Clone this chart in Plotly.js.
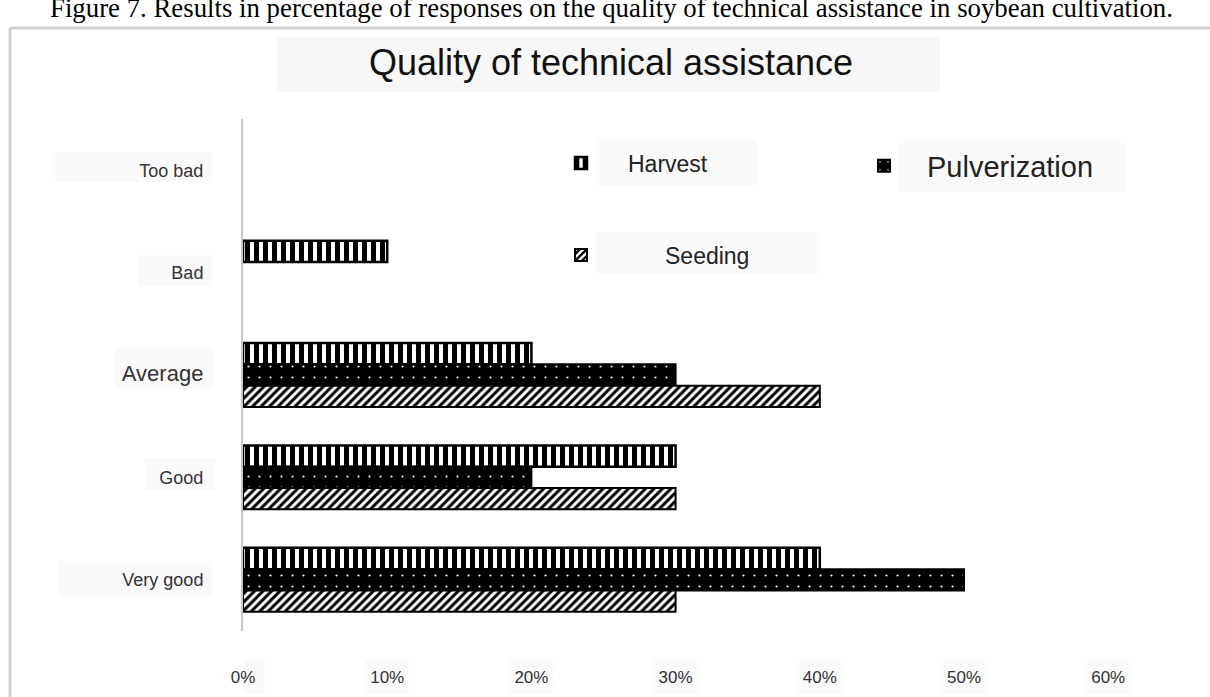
<!DOCTYPE html>
<html>
<head>
<meta charset="utf-8">
<script src="https://cdn.plot.ly/plotly-3.0.1.min.js"></script>
<style>
  html, body { margin: 0; padding: 0; background: #ffffff; }
  #chart { width: 1210px; height: 697px; }
</style>
</head>
<body>
<div id="chart"></div>
<script>
// Share of responses (%) for each rating of technical assistance
const categories = ['Too bad', 'Bad', 'Average', 'Good', 'Very good'];
const harvest = [0, 10, 20, 30, 40];
const pulverization = [0, 0, 30, 20, 50];
const seeding = [0, 0, 40, 30, 30];

const xTickValues = [0, 10, 20, 30, 40, 50, 60];
const xTickLabels = ['0%', '10%', '20%', '30%', '40%', '50%', '60%'];

const captionText = 'Figure 7. Results in percentage of responses on the quality of technical assistance in soybean cultivation.';
const titleText = 'Quality of technical assistance';

// Page geometry (pixels) and helpers converting page pixels to paper coordinates
const W = 1210, H = 697;
const M = { l: 243, r: 73, t: 119, b: 66 };
const plotW = W - M.l - M.r;
const plotH = H - M.t - M.b;
const px = x => (x - M.l) / plotW;
const py = y => (H - M.b - y) / plotH;

const SANS = 'Liberation Sans, Arial, sans-serif';
const SERIF = 'Liberation Serif, Times New Roman, serif';

// Larger label for the middle rating
const yTickText = categories.map(c => c === 'Average'
  ? '<span style="font-size:22px">' + c + '</span>' : c);

// a 0% answer draws no bar at all (no outline stub on the axis)
const bars = vals => vals.map(v => (v > 0 ? v : null));

const traces = [
  {
    type: 'bar', orientation: 'h', name: 'Harvest', legend: 'legend',
    y: categories, x: bars(harvest),
    marker: {
      color: '#ffffff',
      line: { color: '#000000', width: 2.5 },
      pattern: { shape: '|', fgcolor: '#000000', bgcolor: '#ffffff', size: 9, solidity: 0.55, fillmode: 'replace' }
    },
    hoverinfo: 'skip'
  },
  {
    type: 'bar', orientation: 'h', name: 'Pulverization', legend: 'legend2',
    y: categories, x: bars(pulverization),
    marker: {
      color: '#000000',
      line: { color: '#000000', width: 2 },
      pattern: { shape: '.', fgcolor: '#ffffff', bgcolor: '#000000', size: 11, solidity: 0.03, fillmode: 'replace' }
    },
    hoverinfo: 'skip'
  },
  {
    type: 'bar', orientation: 'h', name: 'Seeding', legend: 'legend3',
    y: categories, x: bars(seeding),
    marker: {
      color: '#ffffff',
      line: { color: '#000000', width: 2 },
      pattern: { shape: '/', fgcolor: '#000000', bgcolor: '#ffffff', size: 6, solidity: 0.5, fillmode: 'replace' }
    },
    hoverinfo: 'skip'
  }
];

// Faint panels behind the text blocks
function panel(x0, y0, x1, y1, color) {
  return {
    type: 'rect', xref: 'paper', yref: 'paper', layer: 'below',
    x0: px(x0), x1: px(x1), y0: py(y1), y1: py(y0),
    fillcolor: color || '#fafafa', line: { width: 0 }
  };
}

const shapes = [
  panel(277, 37, 940, 92, '#f7f7f7'),   // title
  panel(598, 140, 757, 186),    // Harvest
  panel(897, 140, 1127, 192),   // Pulverization
  panel(596, 232, 818, 274),    // Seeding
  panel(55, 152, 212, 182),     // Too bad
  panel(138, 255, 212, 286),    // Bad
  panel(115, 348, 214, 388),    // Average
  panel(145, 458, 215, 490),    // Good
  panel(58, 561, 212, 596),     // Very good
  // outer frame
  {
    type: 'line', xref: 'paper', yref: 'paper',
    x0: px(10), x1: px(10), y0: py(28), y1: py(700),
    line: { color: '#cfcfcf', width: 3 }
  },
  {
    type: 'line', xref: 'paper', yref: 'paper',
    x0: px(10), x1: px(1212), y0: py(28), y1: py(28),
    line: { color: '#cfcfcf', width: 3 }
  }
];

// boxes behind the x tick labels
xTickValues.forEach(v => {
  shapes.push({
    type: 'rect', xref: 'x', yref: 'paper', layer: 'below',
    x0: v - 1.5, x1: v + 1.5, y0: py(694), y1: py(660),
    fillcolor: '#fafafa', line: { width: 0 }
  });
});

const legendCommon = {
  xanchor: 'left', yanchor: 'middle',
  bgcolor: 'rgba(0,0,0,0)', borderwidth: 0,
  orientation: 'v'
};

const layout = {
  width: W, height: H,
  margin: M,
  paper_bgcolor: '#ffffff',
  plot_bgcolor: 'rgba(0,0,0,0)',
  barmode: 'group',
  bargap: 0.376,
  bargroupgap: 0,
  showlegend: true,
  title: {
    text: titleText,
    font: { family: SANS, size: 36, color: '#111111' },
    x: 611 / W, xref: 'container', xanchor: 'center',
    y: 1 - 62 / H, yref: 'container', yanchor: 'middle'
  },
  xaxis: {
    range: [0, plotW / 14.42],
    tickvals: xTickValues,
    ticktext: xTickLabels,
    showgrid: false, zeroline: false, showline: false,
    ticks: '',
    ticklabelstandoff: 34,
    tickfont: { family: SANS, size: 17, color: '#333333' },
    fixedrange: true
  },
  yaxis: {
    type: 'category',
    categoryorder: 'array', categoryarray: categories,
    autorange: 'reversed',
    tickvals: categories,
    ticktext: yTickText,
    showgrid: false, zeroline: false,
    showline: true, linecolor: '#c8c8c8', linewidth: 2,
    ticks: '',
    ticklabelstandoff: 34,
    tickfont: { family: SANS, size: 18, color: '#333333' },
    fixedrange: true
  },
  legend: Object.assign({}, legendCommon, {
    x: px(534), y: py(163), itemwidth: 84,
    font: { family: SANS, size: 23, color: '#222222' }
  }),
  legend2: Object.assign({}, legendCommon, {
    x: px(841), y: py(166), itemwidth: 76,
    font: { family: SANS, size: 29, color: '#222222' }
  }),
  legend3: Object.assign({}, legendCommon, {
    x: px(497), y: py(255), itemwidth: 158,
    font: { family: SANS, size: 23, color: '#222222' }
  }),
  annotations: [
    {
      text: captionText,
      xref: 'paper', yref: 'paper',
      x: px(611), y: py(25),
      xanchor: 'center', yanchor: 'bottom',
      showarrow: false,
      font: { family: SERIF, size: 26.8, color: '#000000' }
    }
  ],
  shapes: shapes
};

Plotly.newPlot('chart', traces, layout, { displayModeBar: false, staticPlot: true });
</script>
</body>
</html>
